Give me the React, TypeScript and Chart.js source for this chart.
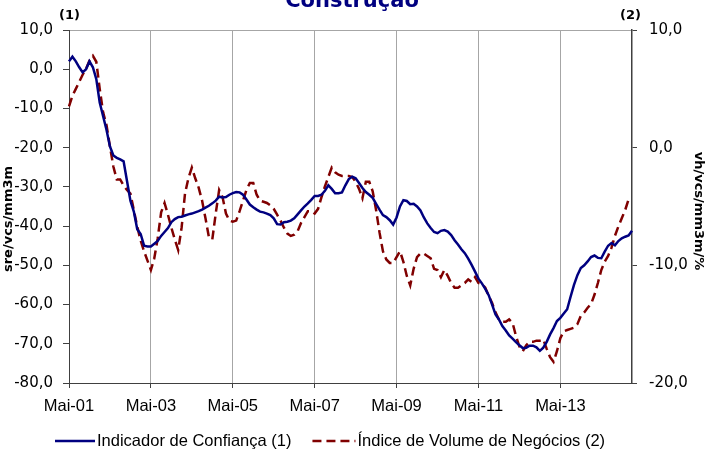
import React, { useEffect, useRef } from 'react';
import { Chart, registerables } from 'chart.js';

Chart.register(...registerables);

// ---- data ----
const MONTH_NAMES = ['Jan', 'Fev', 'Mar', 'Abr', 'Mai', 'Jun', 'Jul', 'Ago', 'Set', 'Out', 'Nov', 'Dez'];
const START_YEAR = 2001;
const START_MONTH = 4; // Mai
const N_MONTHS = 166;
const LABEL_EVERY = 24;

const categories: string[] = Array.from({ length: N_MONTHS }, (_, i) => {
  const m = (START_MONTH + i) % 12;
  const y = START_YEAR + Math.floor((START_MONTH + i) / 12);
  return `${MONTH_NAMES[m]}-${String(y % 100).padStart(2, '0')}`;
});

// Indicador de Confiança (1) - left axis
const confianca: number[] = [
  2.0, 3.2, 2.0, 0.5, -0.8, 0.0, 2.0, 0.5, -2.5, -8.5,
  -12.0, -15.5, -19.7, -22.0, -22.6, -23.0, -23.5, -28.5, -33.5, -36.3,
  -40.8, -42.0, -45.0, -45.2, -45.2, -44.5, -43.8, -42.5, -41.5, -40.5,
  -39.0, -38.2, -37.7, -37.6, -37.3, -37.0, -36.8, -36.5, -36.2, -35.8,
  -35.3, -34.8, -34.2, -33.5, -32.5, -32.7, -32.6, -32.0, -31.6, -31.3,
  -31.4, -32.0, -33.2, -34.5, -35.2, -35.8, -36.3, -36.5, -36.8, -37.2,
  -38.0, -39.5, -39.6, -39.0, -38.9, -38.6, -38.0, -37.0, -36.0, -35.0,
  -34.2, -33.3, -32.3, -32.3, -32.0, -31.0, -29.6, -30.5, -31.6, -31.6,
  -31.4, -29.6, -28.0, -27.4, -27.8, -29.0, -30.3, -31.3, -32.0, -32.8,
  -34.3, -35.8, -37.2, -37.7, -38.5, -39.6, -37.8, -35.0, -33.4, -33.6,
  -34.4, -34.3, -35.0, -36.0, -37.8, -39.3, -40.5, -41.5, -41.8, -41.2,
  -41.0, -41.4, -42.3, -43.6, -44.7, -45.9, -46.9, -48.3, -49.9, -51.6,
  -53.4, -54.6, -56.0, -57.6, -60.0, -62.5, -63.8, -65.5, -66.6, -67.9,
  -68.7, -69.6, -70.4, -71.1, -71.0, -70.5, -70.5, -70.9, -71.8, -71.0,
  -69.5, -67.6, -66.0, -64.2, -63.4, -62.3, -61.2, -58.0, -55.0, -52.5,
  -50.7, -50.0, -49.0, -47.9, -47.5, -48.1, -48.2, -46.5, -45.0, -44.3,
  -44.9, -43.8, -43.1, -42.7, -42.4, -41.2,
];

// Índice de Volume de Negócios (2) - right axis
const volumeNegocios: (number | null)[] = [
  3.5, 4.4, 5.0, 5.6, 6.2, 6.7, 7.4, 7.8, 7.3, 5.0,
  3.0, 1.9, 0.1, -1.6, -2.7, -2.7, -3.2, -3.6, -3.9, -5.3,
  -6.7, -7.9, -8.8, -9.6, -10.4, -9.4, -7.7, -5.5, -4.7, -5.7,
  -6.8, -7.8, -8.7, -6.8, -3.9, -2.6, -1.7, -2.6, -3.4, -4.5,
  -6.0, -7.6, -7.8, -5.6, -3.6, -4.2, -5.6, -6.2, -6.3, -6.2,
  -5.4, -4.5, -3.6, -3.0, -3.0, -4.0, -4.5, -4.6, -4.7, -4.9,
  -5.2, -5.7, -6.2, -6.8, -7.3, -7.5, -7.4, -7.1, -6.4, -5.9,
  -5.4, -5.4, -5.6, -5.2, -4.2, -3.3, -2.5, -1.7, -2.1, -2.3,
  -2.4, -2.4, -2.4, -2.5, -2.9, -3.5, -4.3, -2.9, -2.9, -3.7,
  -5.3, -7.2, -8.8, -9.5, -9.8, -9.8, -9.3, -8.8, -9.7, -10.9,
  -11.7, -10.3, -9.3, -9.0, -9.0, -9.2, -9.4, -10.3, -10.4, -11.0,
  -10.4, -10.9, -11.5, -11.9, -11.9, -11.7, -11.5, -11.2, -11.4, -11.0,
  -11.5, -11.6, -11.9, -12.6, -13.2, -14.0, -14.6, -14.8, -14.8, -14.6,
  -14.9, -16.0, -16.9, -17.3, -16.8, -16.5, -16.5, -16.4, -16.4, -16.3,
  -17.1, -17.8, -18.2, -17.3, -16.2, -15.6, -15.5, -15.4, -15.3, -15.0,
  -14.3, -14.0, -13.6, -13.3, -12.5, -11.5, -10.4, -9.7, -9.2, -8.5,
  -7.5, -6.7, -6.0, -5.3, -4.4, null,
];

const LEFT_MIN = -80;
const LEFT_MAX = 10;
const RIGHT_MIN = -20;
const RIGHT_MAX = 10;
const TICK_STEP = 10;

const TITLE_TEXT = 'Construção';
const LEFT_TITLE = 'sre/vcs/mm3m';
const RIGHT_TITLE = 'vh/vcs/mm3m/%';
const SERIES_NAMES = ['Indicador de Confiança (1)', 'Índice de Volume de Negócios (2)'];

// ---- styles ----
const BLUE = '#000080';
const RED = '#800000';
const AXIS = '#404040';
const GRID = '#a6a6a6';
const SANS = '"Liberation Sans", Arial, sans-serif';
const WIDE = '"DejaVu Sans", sans-serif';

const fmt = (v: number) => v.toFixed(1).replace('.', ',');

const textPlugin = {
  id: 'extraTexts',
  afterDraw(chart: any) {
    const ctx: CanvasRenderingContext2D = chart.ctx;
    const { left, right } = chart.chartArea;
    ctx.save();
    // title (cut at the top)
    ctx.fillStyle = BLUE;
    ctx.font = `bold 21px ${WIDE}`;
    ctx.textAlign = 'center';
    ctx.textBaseline = 'alphabetic';
    ctx.fillText(TITLE_TEXT, 352, 7);

    // (1) (2)
    ctx.fillStyle = '#000';
    ctx.font = `bold 13px ${WIDE}`;
    ctx.textBaseline = 'middle';
    ctx.fillText('(1)', left + 0.5, 16);
    ctx.fillText('(2)', right - 1.5, 16);

    // axis titles
    ctx.save();
    ctx.translate(8.5, 219);
    ctx.rotate(-Math.PI / 2);
    ctx.fillText(LEFT_TITLE, 0, 0);
    ctx.restore();
    ctx.save();
    ctx.translate(698, 211);
    ctx.rotate(Math.PI / 2);
    ctx.fillText(RIGHT_TITLE, 0, 0);
    ctx.restore();

    // legend
    const ly = 441;
    ctx.font = `16.5px ${SANS}`;
    ctx.textAlign = 'left';
    ctx.textBaseline = 'middle';
    let x = 55;
    ctx.strokeStyle = BLUE;
    ctx.lineWidth = 2.5;
    ctx.setLineDash([]);
    ctx.beginPath();
    ctx.moveTo(x, ly);
    ctx.lineTo(x + 40, ly);
    ctx.stroke();
    x += 42;
    ctx.fillStyle = '#000';
    ctx.fillText(SERIES_NAMES[0], x, ly);
    x += ctx.measureText(SERIES_NAMES[0]).width + 21;
    ctx.strokeStyle = RED;
    ctx.setLineDash([9, 5]);
    ctx.beginPath();
    ctx.moveTo(x, ly);
    ctx.lineTo(x + 43, ly);
    ctx.stroke();
    ctx.setLineDash([]);
    x += 45;
    ctx.fillText(SERIES_NAMES[1], x, ly);
    ctx.restore();
  },
};

export default function App() {
  const ref = useRef<HTMLCanvasElement>(null);

  useEffect(() => {
    const canvas = ref.current;
    if (!canvas) return;
    const chart = new Chart(canvas, {
      type: 'line',
      data: {
        labels: categories,
        datasets: [
          {
            label: SERIES_NAMES[0],
            data: confianca,
            borderColor: BLUE,
            backgroundColor: BLUE,
            borderWidth: 2.5,
            pointRadius: 0,
            tension: 0,
            fill: false,
            yAxisID: 'y',
          },
          {
            label: SERIES_NAMES[1],
            data: volumeNegocios,
            borderColor: RED,
            backgroundColor: RED,
            borderWidth: 2.5,
            borderDash: [9, 5],
            pointRadius: 0,
            tension: 0,
            fill: false,
            yAxisID: 'y2',
          },
        ],
      },
      options: {
        responsive: false,
        animation: false,
        devicePixelRatio: 1,
        layout: { padding: { top: 30, bottom: 44, left: 0, right: 0 } },
        plugins: {
          legend: { display: false },
          title: { display: false },
          tooltip: { enabled: false },
        },
        scales: {
          x: {
            type: 'category',
            offset: false,
            grid: {
              color: (c: any) => (c.index % LABEL_EVERY === 0 && c.index > 0 ? GRID : 'transparent'),
              tickColor: (c: any) => (c.index % LABEL_EVERY === 0 ? AXIS : 'transparent'),
              tickLength: 5,
              lineWidth: 1,
            },
            border: { color: AXIS, width: 1 },
            ticks: {
              autoSkip: false,
              maxRotation: 0,
              minRotation: 0,
              padding: 9,
              color: '#000',
              font: { family: SANS, size: 16.5 },
              callback: (_v: any, i: number) => (i % LABEL_EVERY === 0 ? categories[i] : ''),
            },
            afterFit: (s: any) => {
              s.height = 30;
            },
          },
          y: {
            position: 'left',
            min: LEFT_MIN,
            max: LEFT_MAX,
            ticks: {
              stepSize: TICK_STEP,
              padding: 10,
              color: '#000',
              font: { family: WIDE, size: 15 },
              callback: (v: any) => fmt(Number(v)),
            },
            grid: {
              color: (c: any) => (c.tick && c.tick.value === LEFT_MAX ? GRID : 'transparent'),
              tickColor: AXIS,
              tickLength: 6,
            },
            border: { color: AXIS, width: 1 },
            afterFit: (s: any) => {
              s.width = 69;
            },
          },
          y2: {
            position: 'right',
            min: RIGHT_MIN,
            max: RIGHT_MAX,
            ticks: {
              stepSize: TICK_STEP,
              padding: 12,
              color: '#000',
              font: { family: WIDE, size: 15 },
              callback: (v: any) => fmt(Number(v)),
            },
            grid: { drawOnChartArea: false, tickColor: AXIS, tickLength: 5 },
            border: { color: AXIS, width: 1.5 },
            afterFit: (s: any) => {
              s.width = 73;
            },
          },
        },
      },
      plugins: [textPlugin],
    });
    return () => chart.destroy();
  }, []);

  return (
    <div style={{ position: 'absolute', left: 0, top: 0, width: 705, height: 457 }}>
      <canvas ref={ref} width={705} height={457} style={{ display: 'block', width: 705, height: 457 }} />
    </div>
  );
}
